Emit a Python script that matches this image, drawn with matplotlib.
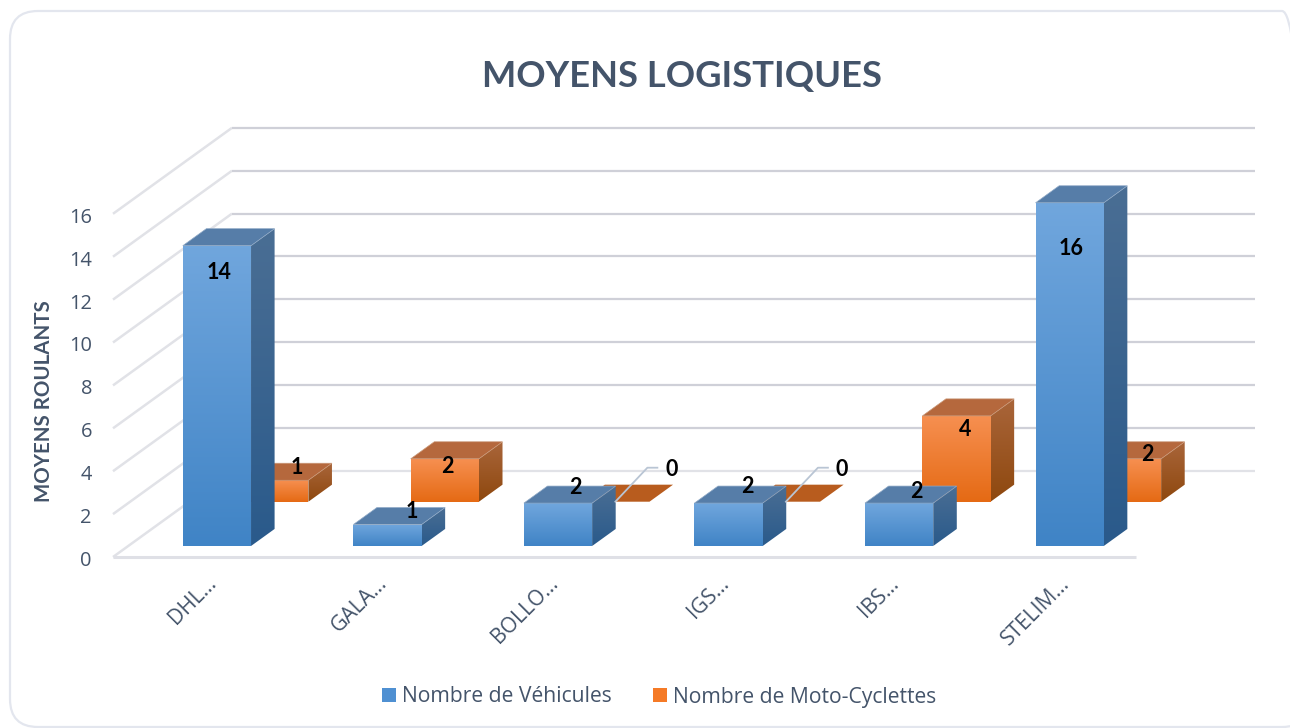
import numpy as np
import matplotlib
matplotlib.use("Agg")
import matplotlib.pyplot as plt
from matplotlib.colors import LinearSegmentedColormap
from matplotlib.patches import Patch, Polygon, FancyBboxPatch
from matplotlib.transforms import IdentityTransform

# donnees
categories = ["DHL…", "GALA…", "BOLLO…", "IGS…", "IBS…", "STELIM…"]
vehicules = [14, 1, 2, 2, 2, 16]
motos = [1, 2, 0, 0, 4, 2]
y_ticks = [0, 2, 4, 6, 8, 10, 12, 14, 16]

W, H = 1290, 728
SLOT_PX, UNIT_PX = 170.55, 21.45
LEFT_PX, FLOOR_PX = 113, 557
DEPTH_PX = (119, 86)
BAR_W = 0.4

TEXT = "#44546A"
GRID = "#CFD0D8"
GRID_SIDE = "#E1E2E7"

# decalage des etiquettes par rapport au haut de la face avant (px)
NUDGE_VEH = [(2, 26), (24, -14), (17, -17), (19, -18), (17, -13), (1, 45)]
NUDGE_MOTO = [(23, -14), (3, 7), (56, -33), (56, -33), (9, 13), (20, -5)]


def project(x, v, z):
    return (x + z * DEPTH_PX[0] / SLOT_PX, v + z * DEPTH_PX[1] / UNIT_PX)


def shade(ax, pts, top, bottom, zorder):
    poly = Polygon(pts, closed=True, facecolor="none", edgecolor="none", zorder=zorder)
    ax.add_patch(poly)
    xs, ys = zip(*pts)
    cmap = LinearSegmentedColormap.from_list("g", [bottom, top])
    im = ax.imshow(np.linspace(1, 0, 64).reshape(-1, 1), cmap=cmap, vmin=0, vmax=1,
                   extent=(min(xs), max(xs), min(ys), max(ys)), aspect="auto",
                   zorder=zorder, interpolation="bilinear")
    im.set_clip_path(poly)


def draw_bar(ax, x, v, z0, z1, style, zorder):
    x0, x1 = x - BAR_W / 2, x + BAR_W / 2
    top = [project(x0, v, z0), project(x1, v, z0), project(x1, v, z1), project(x0, v, z1)]
    if v == 0:
        ax.add_patch(Polygon(top, closed=True, facecolor=style["flat"], edgecolor="none", zorder=zorder))
        return
    front = [project(x0, 0, z0), project(x1, 0, z0), project(x1, v, z0), project(x0, v, z0)]
    side = [project(x1, 0, z0), project(x1, 0, z1), project(x1, v, z1), project(x1, v, z0)]
    shade(ax, front, style["front"][0], style["front"][1], zorder)
    shade(ax, side, style["side"][0], style["side"][1], zorder)
    ax.add_patch(Polygon(top, closed=True, facecolor=style["top"], edgecolor=style["edge"],
                         linewidth=0.5, zorder=zorder))


BLUE = dict(front=("#70A6DD", "#4084C6"), side=("#4A6E94", "#2A5A8B"), top="#567DA8", edge="#8FA9C6", flat="#567DA8")
ORANGE = dict(front=("#F68F50", "#E56A14"), side=("#A9653A", "#8E480E"), top="#B5683D", edge="#C99878", flat="#B85C1E")

fig = plt.figure(figsize=(W / 100, H / 100), dpi=100)
ax = fig.add_axes([0, 0, 1, 1])
ax.axis("off")

x_left, x_right = -0.5, len(categories) - 0.5

# murs: lignes de grille
for t in y_ticks:
    ax.plot(*zip(project(x_left, t, 0), project(x_left, t, 1)), color=GRID_SIDE, lw=1.8, zorder=1,
            solid_capstyle="butt")
    ax.plot(*zip(project(x_left, t, 1), project(x_right, t, 1)), color=GRID if t else GRID_SIDE, lw=1.6, zorder=1,
            solid_capstyle="butt")
    ax.annotate(str(t), project(x_left, t, 0), xytext=(-21, -4), textcoords="offset pixels", ha="right",
                va="center", fontsize=14.4, family="Open Sans", color=TEXT, zorder=6)
ax.plot(*zip(project(x_left, 0, 0), project(x_right, 0, 0)), color="#DFE0E6", lw=2.2, zorder=1,
        solid_capstyle="butt")

Z_VEH = (0.128, 0.326)
Z_MOTO = (0.643, 0.841)
SHIFT_VEH, SHIFT_MOTO = 0.02, -0.003

for i, (cat, veh, moto) in enumerate(zip(categories, vehicules, motos)):
    xm = i + SHIFT_MOTO
    xv = i + SHIFT_VEH
    draw_bar(ax, xm, moto, Z_MOTO[0], Z_MOTO[1], ORANGE, 2)
    draw_bar(ax, xv, veh, Z_VEH[0], Z_VEH[1], BLUE, 3)

    ax.annotate(str(veh), project(xv, veh, Z_VEH[0]), xytext=(NUDGE_VEH[i][0], -NUDGE_VEH[i][1] - 1),
                textcoords="offset pixels", ha="center", va="center", fontsize=15.5,
                family="Lato", weight="bold", color="black", zorder=7)
    ax.annotate(str(moto), project(xm, moto, Z_MOTO[0]), xytext=(NUDGE_MOTO[i][0], -NUDGE_MOTO[i][1] - 1),
                textcoords="offset pixels", ha="center", va="center", fontsize=15.5,
                family="Lato", weight="bold", color="black", zorder=7)
    if moto == 0:
        px, pv = project(xm, moto, Z_MOTO[0])
        ax.plot([px, px + 32 / SLOT_PX, px + 42 / SLOT_PX], [pv, pv + 34 / UNIT_PX, pv + 34 / UNIT_PX],
                color="#B9C5D4", lw=1.3, zorder=4)

    ax.annotate(cat, project(i, 0, 0), xytext=(8, -16), textcoords="offset pixels", rotation=45,
                rotation_mode="anchor", ha="right", va="top", fontsize=15.2,
                family="Open Sans", color=TEXT, zorder=6)

ax.set_xlim((0 - LEFT_PX) / SLOT_PX - 0.5, (W - LEFT_PX) / SLOT_PX - 0.5)
ax.set_ylim((FLOOR_PX - H) / UNIT_PX, FLOOR_PX / UNIT_PX)

fig.text(682 / W, 1 - 77 / H, "MOYENS LOGISTIQUES", ha="center", va="center", fontsize=26.2,
         family="Lato", weight="bold", color=TEXT)
fig.text(44 / W, 1 - 401 / H, "MOYENS ROULANTS", rotation=90, ha="center", va="center", fontsize=14.8,
         family="Lato", weight="bold", color=TEXT)

handles = [Patch(facecolor="#4F90D2", label="Nombre de Véhicules"),
           Patch(facecolor="#F57A26", label="Nombre de Moto-Cyclettes")]
fig.legend(handles=handles, loc="center", bbox_to_anchor=(659 / W, 1 - 697 / H), ncol=2, frameon=False,
           prop={"family": "Open Sans", "size": 15.2}, labelcolor=TEXT, handlelength=0.67, handleheight=0.67,
           handletextpad=0.28, columnspacing=1.95)

# cadre arrondi de la carte
card = FancyBboxPatch((10, H - 727), 1300, 716, transform=IdentityTransform(),
                      boxstyle="round,pad=0,rounding_size=28",
                      facecolor="none", edgecolor="#E3E6EE", linewidth=1.6, clip_on=False)
fig.add_artist(card)

fig.savefig("out.png", dpi=100, facecolor="white")
